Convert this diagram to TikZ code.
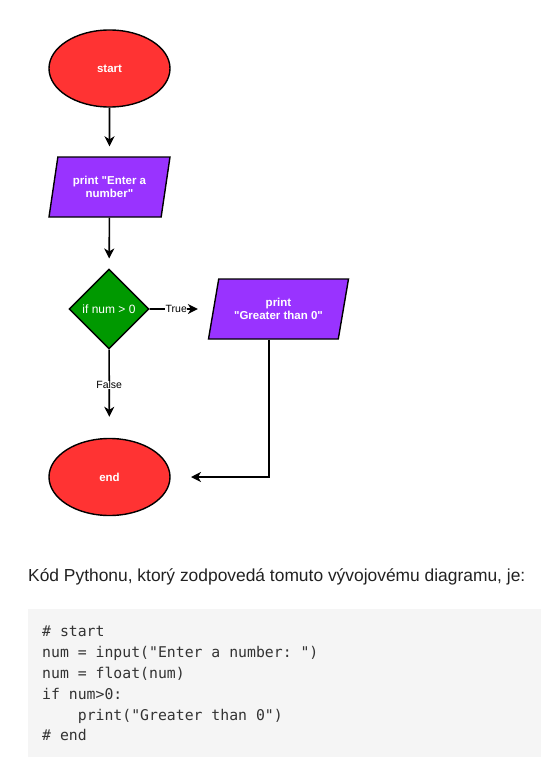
\documentclass[tikz,border=0pt]{standalone}
\usepackage{fontspec}
\setmainfont{Liberation Sans}
\setmonofont{DejaVu Sans Mono}
\newfontfamily\chartfont{Liberation Sans}
\usetikzlibrary{shapes.geometric,arrows.meta}
\definecolor{termred}{HTML}{FF3333}
\definecolor{iopurple}{HTML}{9933FF}
\definecolor{decgreen}{HTML}{009900}
\definecolor{codebg}{HTML}{F5F5F5}
\definecolor{codefg}{HTML}{333333}
\definecolor{capfg}{HTML}{212121}
\tikzset{
    TE/.style ={ellipse, minimum width = 121pt, minimum height = 77pt, draw, line width=1.4pt, fill=termred, text=white, font=\chartfont\bfseries\fontsize{11.5}{13.5}\selectfont},
    IO/.style ={trapezium, trapezium stretches body, minimum height = 60pt, draw, line width=1.4pt, fill=iopurple, text=white, align=center, inner sep=0pt, font=\chartfont\bfseries\fontsize{11.5}{13.5}\selectfont},
    DE/.style ={diamond, minimum width = 80pt, minimum height = 80pt, draw, line width=1.4pt, fill=decgreen, text=white, inner sep=0pt, font=\chartfont\fontsize{12}{14}\selectfont},
    LB/.style ={fill=white, inner sep=0.5pt, text=black, font=\chartfont\fontsize{10.5}{12}\selectfont},
    AR/.style ={-{Stealth[length=10pt,width=10pt,inset=3pt]}, line width=1.6pt}}

\begin{document}
\begin{tikzpicture}[x=1pt,y=-1pt]
        \useasboundingbox (0,0) rectangle (541,757);
        \node(start) [TE] at (109.5,68.5) {start};
        \node(input) [IO, minimum width=121pt, trapezium left angle=68, trapezium right angle=112] at (109.5,187) {print "Enter a\\number"};
        \node(check) [DE] at (109,309) {if num > 0};
        \node(output) [IO, minimum width=140pt, trapezium left angle=65, trapezium right angle=115] at (278.5,309) {print\\"Greater than 0"};
        \node(stop) [TE] at (109.5,477) {end};
        \coordinate(bend) at (269,477);
        \coordinate(stopin) at (191,477);
        \draw[AR,shorten >=10pt] (start) -- (input);
        \draw[AR,shorten >=10pt] (input) -- (check);
        \draw[AR,shorten >=15pt] (check) -- node[LB,pos=0.42]{True} (output);
        \draw[AR,shorten >=21pt] (check) -- node[LB,pos=0.4]{False} (stop);
        \draw[AR] (output.south -| bend) -- (bend) -- (stopin);
        % code sample below the chart
        \node(caption) [anchor=west, inner sep=0pt, text=capfg, font=\fontsize{17.4}{21}\selectfont] at (28,577) {Kód Pythonu, ktorý zodpovedá tomuto vývojovému diagramu, je:};
        \fill[codebg] (28,609) rectangle (541,757);
        \node(code) [anchor=north west, inner sep=0pt, align=left, text=codefg, font=\ttfamily\fontsize{14.8}{20.8}\selectfont] at (42,626) {\#~start\\num~=~input("Enter~a~number:~")\\num~=~float(num)\\if~num>0:\\~~~~print("Greater~than~0")\\\#~end};
    \end{tikzpicture}
\end{document}
